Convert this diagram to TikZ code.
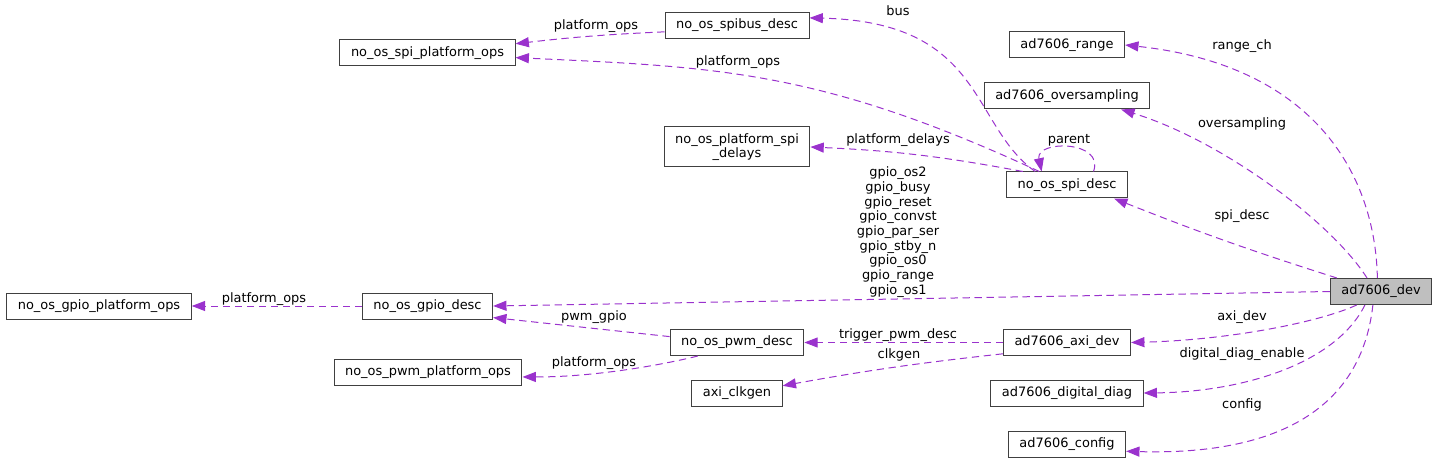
\documentclass[tikz,border=0pt]{standalone}
\usepackage{fontspec}
\setmainfont{DejaVu Sans}
\usetikzlibrary{arrows.meta}
\definecolor{refpurple}{HTML}{9A32CD}
\definecolor{boxline}{HTML}{404040}
\definecolor{devgray}{HTML}{BFBFBF}
\begin{document}
\begin{tikzpicture}[x=0.75pt,y=0.75pt,>={Triangle[length=10pt,width=7.5pt]},
    font=\fontsize{9.7}{11}\selectfont,
    cls/.style={draw=boxline,line width=0.75pt,inner xsep=8.3pt,minimum height=19.5pt},
    refedge/.style={->,refpurple,dash pattern=on 5.5pt off 3.5pt,line width=0.75pt},
    lbl/.style={inner sep=1pt}]
    \useasboundingbox (0,0) rectangle (1437,-463);
    \node[cls] (spiops) at (427.5,-53) {no\_os\_spi\_platform\_ops};
    \node[cls] (spibus) at (737,-25.5) {no\_os\_spibus\_desc};
    \node[cls,align=center,minimum height=30pt] (delays) at (737,-147) {no\_os\_platform\_spi\\\_delays};
    \node[cls] (range) at (1067,-45) {ad7606\_range};
    \node[cls] (overs) at (1067,-96) {ad7606\_oversampling};
    \node[cls] (spidesc) at (1067,-185) {no\_os\_spi\_desc};
    \node[cls,fill=devgray] (dev) at (1381,-291.5) {ad7606\_dev};
    \node[cls] (gpioops) at (99,-306) {no\_os\_gpio\_platform\_ops};
    \node[cls] (gpiodesc) at (427.5,-306) {no\_os\_gpio\_desc};
    \node[cls] (pwmops) at (428,-372) {no\_os\_pwm\_platform\_ops};
    \node[cls] (pwmdesc) at (737,-342.5) {no\_os\_pwm\_desc};
    \node[cls] (clkgen) at (737,-393) {axi\_clkgen};
    \node[cls] (axidev) at (1067,-342.5) {ad7606\_axi\_dev};
    \node[cls] (diag) at (1067,-393) {ad7606\_digital\_diag};
    \node[cls] (config) at (1067,-444) {ad7606\_config};

    \draw[refedge] (dev.105) .. controls (1375,-170) and (1310,-65) .. (range.east);
    \draw[refedge] (dev.136) .. controls (1330,-220) and (1220,-140) .. (overs.-14);
    \draw[refedge] (dev.163) to[bend left=2] (spidesc.-16);
    \draw[refedge] (dev.west) -- (gpiodesc.east);
    \draw[refedge] (dev.-151) .. controls (1320,-322) and (1230,-340) .. (axidev.east);
    \draw[refedge] (dev.-140) .. controls (1335,-365) and (1240,-392) .. (diag.east);
    \draw[refedge] (dev.-121) .. controls (1360,-420) and (1260,-455) .. (config.-7);
    \draw[refedge] (spidesc.157) .. controls (970,-125) and (985,-22) .. (spibus.6);
    \draw[refedge] (spidesc.154) .. controls (820,-70) and (717,-67) .. (spiops.-3);
    \draw[refedge] (spidesc.163) to[bend right=4] (delays.east);
    \draw[refedge] (spidesc.27) .. controls (1105,-140) and (1035,-140) .. (spidesc.152);
    \draw[refedge] (spibus.185) to[bend right=2] (spiops.6);
    \draw[refedge] (gpiodesc.west) -- (gpioops.east);
    \draw[refedge] (pwmdesc.175) -- (gpiodesc.-10);
    \draw[refedge] (pwmdesc.-161) .. controls (670,-363) and (600,-377) .. (pwmops.-3);
    \draw[refedge] (axidev.west) -- (pwmdesc.east);
    \draw[refedge] (axidev.190) to[bend right=2] (clkgen.9);

    \node[lbl] (lbus) at (898,-11) {bus};
    \node[lbl] (lspibus) at (596,-26) {platform\_ops};
    \node[lbl] (lspiops) at (738,-62) {platform\_ops};
    \node[lbl] (ldelays) at (898,-140) {platform\_delays};
    \node[lbl] (lparent) at (1069,-140) {parent};
    \node[lbl] (lrange) at (1242,-46) {range\_ch};
    \node[lbl] (lovers) at (1242,-124) {oversampling};
    \node[lbl] (lspidesc) at (1242,-216) {spi\_desc};
    \node[lbl,align=center] (lgpio) at (898,-232) {gpio\_os2\\gpio\_busy\\gpio\_reset\\gpio\_convst\\gpio\_par\_ser\\gpio\_stby\_n\\gpio\_os0\\gpio\_range\\gpio\_os1};
    \node[lbl] (lgpioops) at (264,-299) {platform\_ops};
    \node[lbl] (lpwmgpio) at (594,-317) {pwm\_gpio};
    \node[lbl] (lpwmops) at (594,-363) {platform\_ops};
    \node[lbl] (ltrigger) at (898,-335) {trigger\_pwm\_desc};
    \node[lbl] (lclkgen) at (899,-355) {clkgen};
    \node[lbl] (laxidev) at (1242,-317) {axi\_dev};
    \node[lbl] (ldiag) at (1242,-354) {digital\_diag\_enable};
    \node[lbl] (lconfig) at (1242,-405) {config};
\end{tikzpicture}
\end{document}
